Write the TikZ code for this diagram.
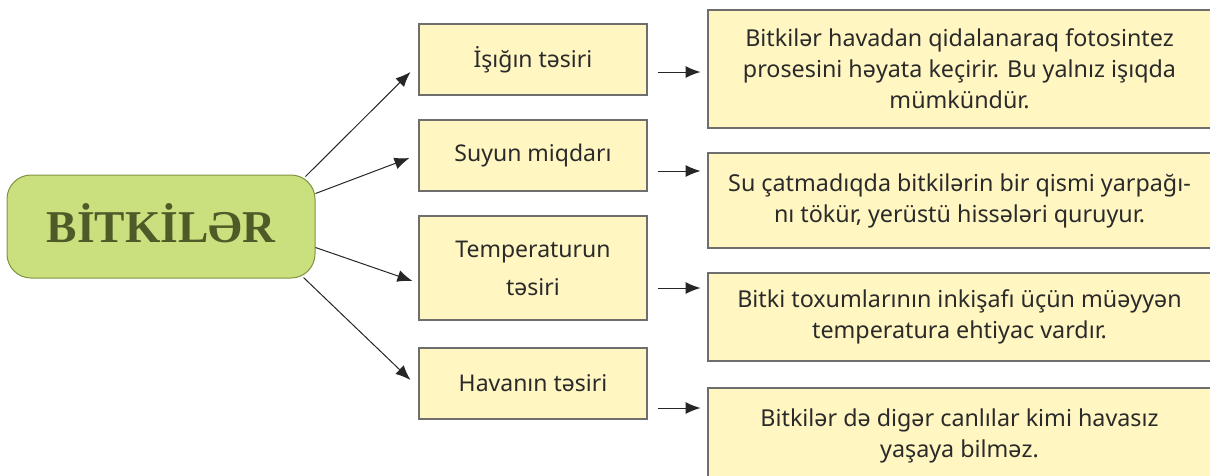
\documentclass[tikz,border=0pt]{standalone}
\usepackage{fontspec}
\setmainfont{Noto Sans}
\newfontfamily\titlefont{Liberation Serif}
\usetikzlibrary{arrows.meta}
\definecolor{gfill}{HTML}{CADF7E}
\definecolor{gdraw}{HTML}{7F9440}
\definecolor{gtext}{HTML}{4E5A28}
\definecolor{yfill}{HTML}{FFF6C2}
\definecolor{ydraw}{HTML}{6E6E6E}
\definecolor{txt}{HTML}{2A2A2A}
\tikzset{
  mainbox/.style={draw=gdraw, fill=gfill, line width=1pt, rounded corners=24pt,
    minimum width=308pt, minimum height=103pt, inner sep=0pt, text depth=8pt,
    font=\titlefont\bfseries\fontsize{45.5}{50}\selectfont, text=gtext},
  midbox/.style={draw=ydraw, fill=yfill, line width=1.1pt, minimum width=228pt,
    inner sep=0pt, align=center, text=txt, font=\fontsize{23}{38}\selectfont},
  infobox/.style={draw=ydraw, fill=yfill, line width=1.1pt, minimum width=503pt,
    inner sep=0pt, align=center, text=txt, font=\fontsize{23.3}{31}\selectfont},
  arr/.style={draw=black!85, line width=1pt, -{Latex[length=15pt,width=12pt]}},
}
\begin{document}
\begin{tikzpicture}[x=1pt,y=-1pt]
\useasboundingbox (0,0) rectangle (1210,475);
\node[mainbox] (c) at (161,226.5) {BİTKİLƏR};
\node[midbox, minimum height=71pt] (b1) at (533,59.5) {İşığın təsiri};
\node[midbox, minimum height=71pt] (b2) at (533,155.5) {Suyun miqdarı};
\node[midbox, minimum height=104pt] (b3) at (533,268) {Temperaturun\\təsiri};
\node[midbox, minimum height=71pt] (b4) at (533,383.5) {Havanın təsiri};
\node[infobox, minimum height=118pt] (r1) at (959.5,69) {Bitkilər havadan qidalanaraq fotosintez\\prosesini həyata keçirir. Bu yalnız işıqda\\mümkündür.};
\node[infobox, minimum height=95pt] (r2) at (959.5,200.5) {Su çatmadıqda bitkilərin bir qismi yarpağı-\\nı tökür, yerüstü hissələri quruyur.};
\node[infobox, minimum height=88pt] (r3) at (959.5,317) {Bitki toxumlarının inkişafı üçün müəyyən\\temperatura ehtiyac vardır.};
\node[infobox, minimum height=95pt] (r4) at (959.5,435.5) {Bitkilər də digər canlılar kimi havasız\\yaşaya bilməz.};
\draw[arr] ([xshift=-10pt,yshift=-2pt]c.north east) -- ([xshift=-8pt,yshift=-12.5pt]b1.west);
\draw[arr] ([yshift=33pt]c.east) -- ([xshift=-9pt,yshift=-2.5pt]b2.west);
\draw[arr] ([yshift=-21pt]c.east) -- ([xshift=-6pt,yshift=-13pt]b3.west);
\draw[arr] ([xshift=-12pt,yshift=1pt]c.south east) -- ([xshift=-8pt,yshift=3.5pt]b4.west);
\draw[arr] ([xshift=10pt,yshift=-12.5pt]b1.east) -- ++(43pt,0);
\draw[arr] ([xshift=10pt,yshift=-15.5pt]b2.east) -- ++(43pt,0);
\draw[arr] ([xshift=10pt,yshift=-20pt]b3.east) -- ++(43pt,0);
\draw[arr] ([xshift=10pt,yshift=-24.5pt]b4.east) -- ++(43pt,0);
\end{tikzpicture}
\end{document}
